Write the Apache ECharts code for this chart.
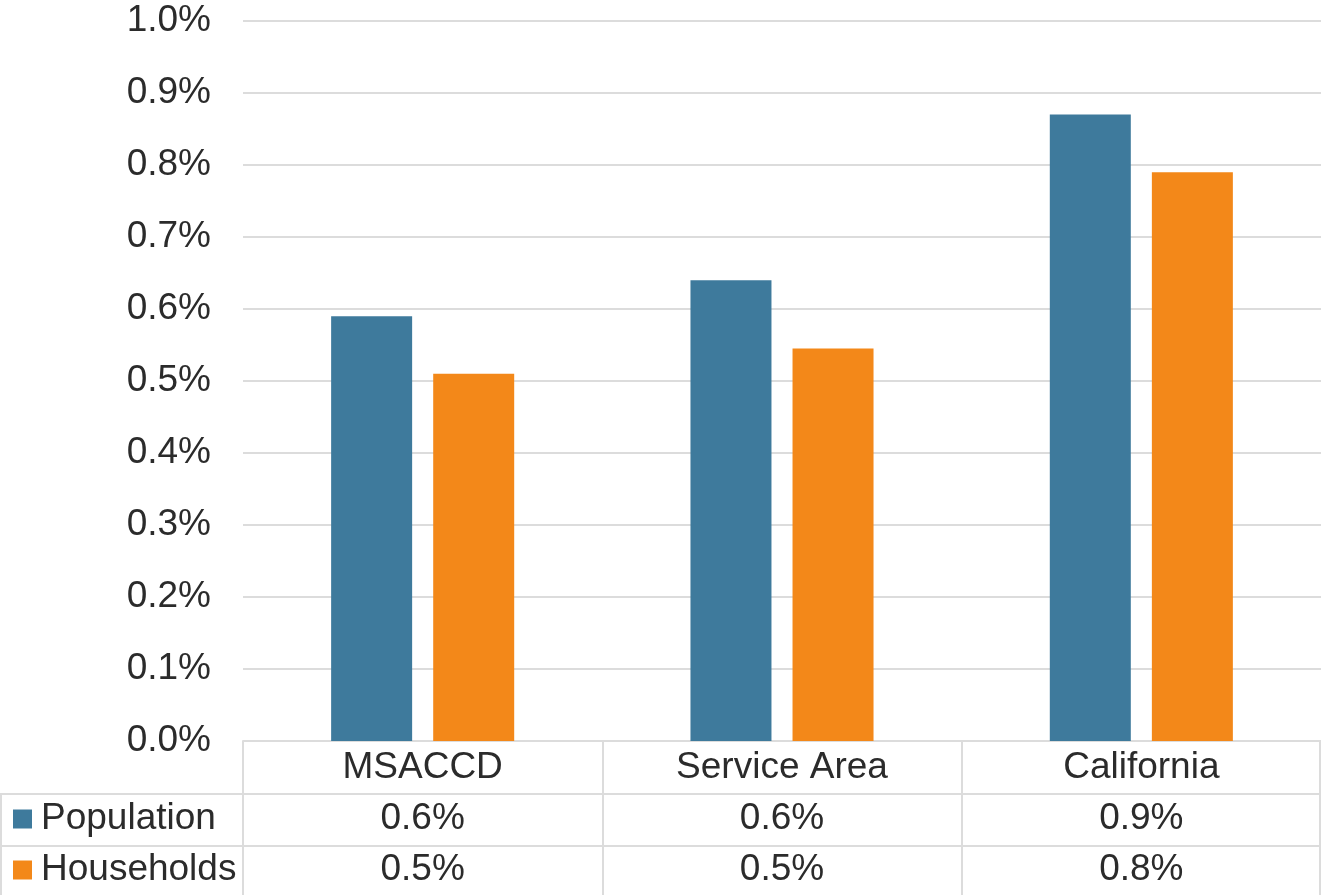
<!DOCTYPE html>
<html>
<head>
<meta charset="utf-8">
<script src="https://cdn.jsdelivr.net/npm/echarts@6/dist/echarts.min.js"></script>
<style>
html,body{margin:0;padding:0;background:#fff;}
#chart{width:1321px;height:895px;}
</style>
</head>
<body>
<div id="chart"></div>
<script>
var categories = ['MSACCD', 'Service Area', 'California'];
var seriesNames = ['Population', 'Households'];
var population = [0.59, 0.64, 0.87];
var households = [0.51, 0.545, 0.79];
var yTicks = [0, 0.1, 0.2, 0.3, 0.4, 0.5, 0.6, 0.7, 0.8, 0.9, 1.0];

var FONT = '"Liberation Sans", Arial, sans-serif';
var FS = 37;
var TXT = '#2b2b2b';
var LINE = '#dcdcdc';
var BLUE = '#3e7a9c';
var ORANGE = '#f38819';

function pct(v) { return v.toFixed(1) + '%'; }

function legendFor(name, top) {
  return {
    orient: 'vertical',
    left: 13,
    top: top,
    padding: 0,
    itemWidth: 19,
    itemHeight: 19,
    icon: 'rect',
    selectedMode: false,
    textStyle: { fontFamily: FONT, fontSize: FS, lineHeight: 38, color: TXT, padding: [0, 0, 0, 4] },
    data: [name]
  };
}

var chart = echarts.init(document.getElementById('chart'));
chart.setOption({
  animation: false,
  color: [BLUE, ORANGE],
  grid: { left: 243, right: 0, top: 21, bottom: 154, containLabel: false },
  legend: [legendFor(seriesNames[0], 800), legendFor(seriesNames[1], 851)],
  xAxis: [
    {
      type: 'category',
      data: categories,
      position: 'bottom',
      axisLine: { show: true, lineStyle: { color: LINE, width: 2 } },
      axisTick: { show: true, length: 156, interval: 0, lineStyle: { color: LINE, width: 2 } },
      axisLabel: { interval: 0, margin: 27, verticalAlign: 'middle', fontFamily: FONT, fontSize: FS, color: TXT }
    },
    {
      type: 'category',
      data: categories,
      position: 'bottom',
      offset: 0,
      axisLine: { show: false },
      axisTick: { show: false },
      axisLabel: {
        interval: 0, margin: 78, verticalAlign: 'middle', fontFamily: FONT, fontSize: FS, color: TXT,
        formatter: function (v, i) { return pct(population[i]); }
      }
    },
    {
      type: 'category',
      data: categories,
      position: 'bottom',
      offset: 0,
      axisLine: { show: false },
      axisTick: { show: false },
      axisLabel: {
        interval: 0, margin: 129, verticalAlign: 'middle', fontFamily: FONT, fontSize: FS, color: TXT,
        formatter: function (v, i) { return pct(households[i]); }
      }
    }
  ],
  yAxis: {
    type: 'value',
    min: yTicks[0],
    max: yTicks[yTicks.length - 1],
    interval: 0.1,
    axisLine: { show: false },
    axisTick: { show: false },
    splitLine: { show: true, lineStyle: { color: LINE, width: 2 } },
    axisLabel: { margin: 32, fontFamily: FONT, fontSize: FS, color: TXT, formatter: function (v) { return pct(v); } }
  },
  graphic: [
    { type: 'line', silent: true, shape: { x1: 0, y1: 794, x2: 1321, y2: 794 }, style: { stroke: LINE, lineWidth: 2 } },
    { type: 'line', silent: true, shape: { x1: 0, y1: 846, x2: 1321, y2: 846 }, style: { stroke: LINE, lineWidth: 2 } },
    { type: 'line', silent: true, shape: { x1: 1, y1: 794, x2: 1, y2: 895 }, style: { stroke: LINE, lineWidth: 2 } },
    { type: 'line', silent: true, shape: { x1: 1320, y1: 741, x2: 1320, y2: 895 }, style: { stroke: LINE, lineWidth: 2 } }
  ],
  series: [
    { name: seriesNames[0], type: 'bar', xAxisIndex: 0, data: population, barWidth: 81, barGap: '26%', itemStyle: { color: BLUE } },
    { name: seriesNames[1], type: 'bar', xAxisIndex: 0, data: households, barWidth: 81, barGap: '26%', itemStyle: { color: ORANGE } }
  ]
});
</script>
</body>
</html>
